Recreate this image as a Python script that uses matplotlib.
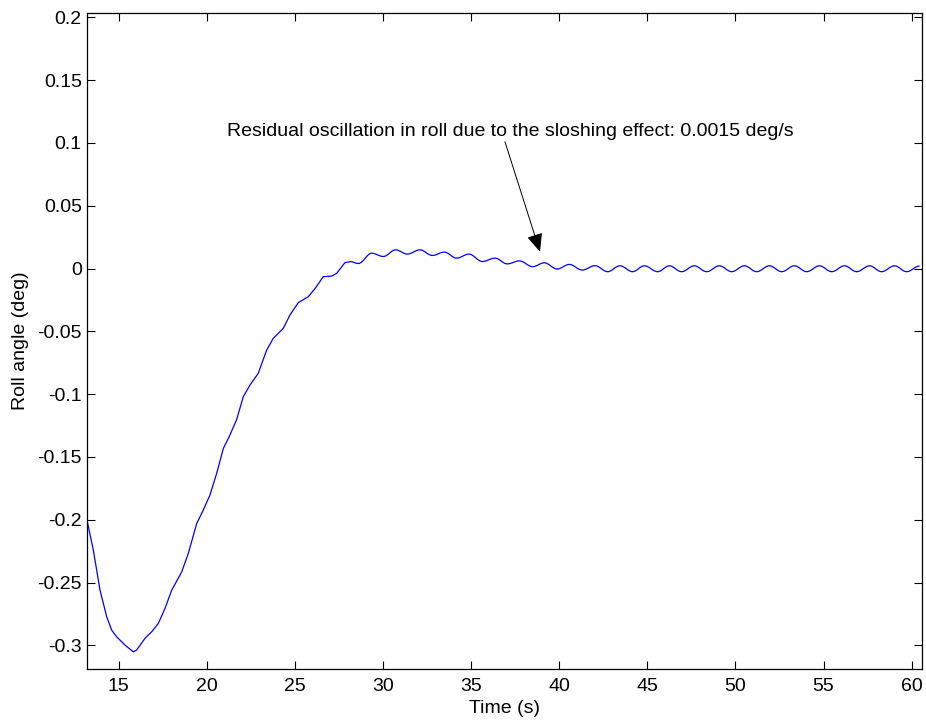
import matplotlib
matplotlib.use("Agg")
import matplotlib.pyplot as plt
from matplotlib.path import Path
from matplotlib.patches import PathPatch

# Roll response: the dip and the rise back to zero
rise_t = [13.22, 13.56, 13.94, 14.32, 14.60, 14.89, 15.36, 15.83, 16.02, 16.49,
          16.87, 17.25, 17.63, 18.01, 18.58, 18.95, 19.43, 19.80, 20.18, 20.56,
          20.94, 21.30, 21.70, 22.07, 22.45, 22.92, 23.40, 23.77, 24.34, 24.72,
          25.19, 25.76, 26.14, 26.61, 27.09, 27.37, 27.84]
rise_roll = [-0.2016, -0.224, -0.256, -0.2772, -0.2878, -0.2932, -0.2998, -0.3051, -0.3037, -0.2944,
             -0.2892, -0.2825, -0.2705, -0.256, -0.2414, -0.2268, -0.2029, -0.1923, -0.1803, -0.1631,
             -0.1432, -0.133, -0.120, -0.102, -0.0928, -0.0834, -0.0649, -0.0556, -0.0476, -0.0370,
             -0.0272, -0.0224, -0.0160, -0.0065, -0.0060, -0.0038, 0.0047]

# Residual sloshing oscillation: alternating crests and troughs
osc_t = [28.15, 28.60, 29.36, 30.02, 30.72, 31.38, 32.10, 32.80, 33.48, 34.18,
         34.88, 35.64, 36.36, 37.05, 37.74, 38.50, 39.15, 39.89, 40.57, 41.31,
         42.03, 42.75, 43.45, 44.17, 44.83, 45.59, 46.25, 46.95, 47.67, 48.37,
         49.09, 49.79, 50.51, 51.21, 51.93, 52.63, 53.35, 54.05, 54.77, 55.47,
         56.19, 56.89, 57.61, 58.30, 59.03, 59.72, 60.45]
osc_roll = [0.0055, 0.0040, 0.0122, 0.0096, 0.0149, 0.0115, 0.0149, 0.0104, 0.0131, 0.0083,
            0.0115, 0.0056, 0.0083, 0.0037, 0.0061, 0.0015, 0.0046, -0.0004, 0.0033, -0.0012,
            0.0023, -0.0025, 0.0022, -0.0025, 0.0022, -0.0025, 0.0022, -0.0025, 0.0022, -0.0025,
            0.0022, -0.0025, 0.0022, -0.0025, 0.0022, -0.0025, 0.0022, -0.0025, 0.0022, -0.0025,
            0.0022, -0.0025, 0.0022, -0.0025, 0.0022, -0.0025, 0.0020]

yticks = [-0.3, -0.25, -0.2, -0.15, -0.1, -0.05, 0, 0.05, 0.1, 0.15, 0.2]
ytick_labels = ["-0.3", "-0.25", "-0.2", "-0.15", "-0.1", "-0.05", "0", "0.05", "0.1", "0.15", "0.2"]
xticks = [15, 20, 25, 30, 35, 40, 45, 50, 55, 60]

note = "Residual oscillation in roll due to the sloshing effect: 0.0015 deg/s"
note_xy = (21.13, 0.109)
arrow_tail = (36.92, 0.101)
arrow_tip = (38.91, 0.0134)

plt.rcParams["font.family"] = ["Liberation Sans", "DejaVu Sans"]
plt.rcParams["font.size"] = 14

fig = plt.figure(figsize=(9.26, 7.24), dpi=100)
ax = fig.add_axes([0.0943, 0.0756, 0.9010, 0.9069])

# straight segments through the rise, then half-cosine-like Bezier arcs between extremes
verts = [(rise_t[0], rise_roll[0])]
codes = [Path.MOVETO]
for t, r in zip(rise_t[1:] + osc_t[:1], rise_roll[1:] + osc_roll[:1]):
    verts.append((t, r))
    codes.append(Path.LINETO)
k = 1 - 2 / 3.14159265
for i in range(1, len(osc_t)):
    t0, r0 = osc_t[i - 1], osc_roll[i - 1]
    t1, r1 = osc_t[i], osc_roll[i]
    dt = t1 - t0
    verts += [(t0 + k * dt, r0), (t1 - k * dt, r1), (t1, r1)]
    codes += [Path.CURVE4] * 3
ax.add_patch(PathPatch(Path(verts, codes), fill=False, edgecolor="#0000ff", lw=0.9))

ax.text(note_xy[0], note_xy[1], note, ha="left", va="center", fontsize=14)
ax.annotate("", xy=arrow_tip, xytext=arrow_tail,
            arrowprops=dict(arrowstyle="-|>,head_length=0.8,head_width=0.35",
                            color="black", lw=0.7, shrinkA=0, shrinkB=0))

ax.set_xlim(13.22, 60.57)
ax.set_ylim(-0.319, 0.2037)
ax.set_xticks(xticks)
ax.set_xticklabels([str(v) for v in xticks])
ax.set_yticks(yticks)
ax.set_yticklabels(ytick_labels)
ax.tick_params(direction="in", length=5.5, width=0.8, top=True, right=True,
               labelsize=14)
ax.tick_params(axis="x", pad=6)
ax.tick_params(axis="y", pad=4)
for sp in ax.spines.values():
    sp.set_linewidth(0.9)
ax.set_xlabel("Time (s)", fontsize=14, labelpad=4)
ax.set_ylabel("Roll angle (deg)", fontsize=14, labelpad=6)

fig.savefig("out.png", dpi=100)
